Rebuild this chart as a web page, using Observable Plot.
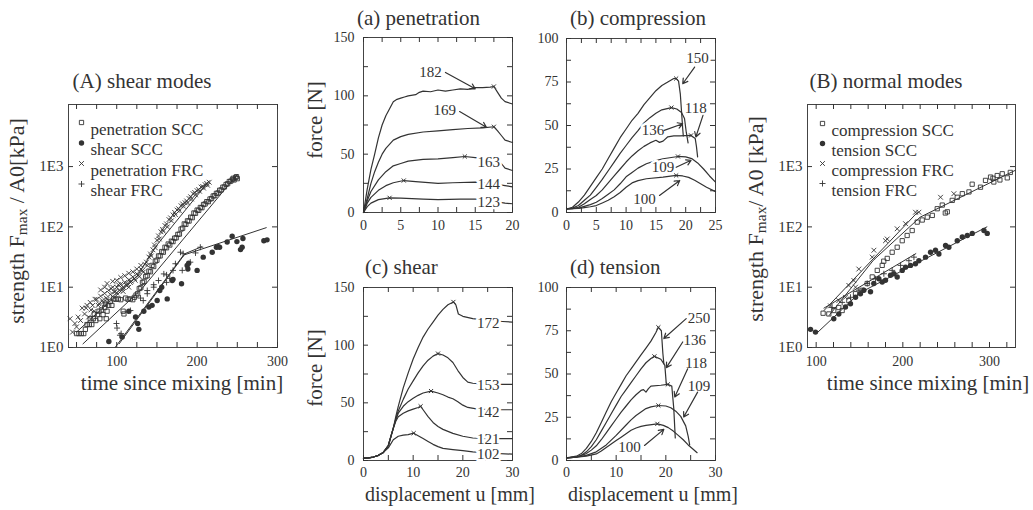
<!DOCTYPE html>
<html><head><meta charset="utf-8">
<script src="https://cdn.jsdelivr.net/npm/d3@7"></script>
<script src="https://cdn.jsdelivr.net/npm/@observablehq/plot@0.6"></script>
<style>
body{margin:0;background:#fff;}
#fig{position:relative;width:1033px;height:510px;overflow:hidden;font-family:"Liberation Serif","Times New Roman",serif;color:#333;background:#fff;}
#fig svg text{font-family:"Liberation Serif","Times New Roman",serif;}
.t{position:absolute;white-space:nowrap;font-size:21px;line-height:1;}
.c{transform:translate(-50%,-50%);}
.l{transform:translate(0,-50%);}
.r{transform:translate(-50%,-50%) rotate(-90deg);}
sub{font-size:0.7em;vertical-align:-0.2em;}
</style></head><body><div id="fig"></div>
<script>
const INK = "#333";
const FONT = '"Liberation Serif","Times New Roman",serif';

// ---------- Panel A: shear modes ----------
const penSCC = [[50,1.7],[53,1.7],[56,1.7],[59,1.7],[61,2.0],[63,2.4],[66,2.4],[69,2.4],[67,3.0],[71,3.0],[74,2.8],[72,3.6],[76,3.5],[78,4.0],[79,3.0],[81,4.2],[83,3.5],[85,4.6],[86,5.2],[87,3.0],[88,4.0],[90,5.0],[92,5.8],[94,5.0],[96,6.4],[99,6.3],[102,6.4],[105,6.2],[108,4.0],[109,3.6],[111,6.6],[114,6.3],[117,6.4],[120,6.2],[122,6.8],[124,7.4],[126,7.8],[128,9.5],[130,9.8],[132,12],[134,12.5],[136,15],[138,15.5],[140,18.5],[142,18],[144,23],[146,22],[148,27],[150,28],[152,33],[154,33],[156,39],[158,38],[160,46],[162,45],[164,52],[166,50],[168,58],[170,57],[172,65],[174,66],[176,75],[178,76],[180,92],[182,95],[184,112],[186,110],[188,126],[190,125],[192,145],[194,142],[196,170],[198,168],[200,190],[202,188],[204,210],[206,208],[208,235],[210,240],[212,262],[214,262],[216,290],[218,295],[220,325],[222,330],[224,360],[226,365],[228,405],[230,410],[232,455],[234,460],[236,505],[238,520],[240,565],[242,575],[244,615],[246,600],[248,660],[250,630],[245,640],[249,680]];
const shearSCC = [[90.2,1.26],[106.8,1.5],[115,4.0],[123.4,3.2],[127.5,2.0],[126,2.5],[133.7,4.0],[140,4.7],[144,5.0],[150.3,6.0],[153.6,8.8],[156,10],[162.8,6.4],[169,12.9],[170,13.5],[180.6,11.4],[187.6,23],[188.5,20],[189.5,25],[200,19],[207.6,31.5],[218.8,38],[224,46],[226,47],[228,46],[237.4,56],[243.6,70],[249.5,57],[254,42],[256,46],[257,64],[283,59],[287,61]];
const penFRC = [[42,3.0],[45,1.8],[48,2.5],[50,2.2],[52,3.2],[55,2.8],[57,4.5],[60,3.6],[62,4.5],[63,5.0],[65,3.2],[67,5.6],[68,4.2],[70,5.0],[72,4.0],[73,6.3],[75,6.3],[77,5.0],[78,5.3],[80,7.1],[82,6.0],[83,5.6],[85,7.9],[87,6.6],[88,6.3],[90,8.9],[92,7.6],[93,9.5],[95,10],[97,8.3],[98,8.5],[100,10],[102,11],[103,8.9],[105,11.2],[107,9.5],[108,10],[110,12],[112,10.7],[113,11.5],[115,13.2],[117,12],[118,12.6],[120,14.8],[122,14],[123,13],[125,16.6],[127,15.8],[128,15],[130,20],[132,19],[133,17.8],[135,24],[137,26],[138,23],[140,31.6],[142,35.5],[143,33],[145,41.7],[147,50],[148,45],[150,60],[152,70.8],[153,63],[155,83],[157,91],[158,85],[160,105],[162,112],[163,100],[165,132],[167,141],[168,126],[170,158],[172,174],[173,160],[175,190],[177,200],[178,185],[180,224],[182,240],[183,220],[185,251],[187,269],[188,250],[190,295],[192,316],[193,290],[195,355],[197,372],[198,340],[200,398],[202,417],[203,390],[205,457],[207,468],[208,440],[210,501],[212,525],[213,490],[215,550],[80,9],[85,10],[88,11.5],[95,12.5],[100,13],[105,14.5],[110,15.5],[115,17],[120,18],[125,20],[130,23],[88,5.6],[95,7],[100,8],[108,8.5],[115,10]];
const shearFRC = [[99.7,2.5],[100.4,2.1],[104,1.6],[105.5,1.7],[117,4.1],[129.6,6.6],[133,6],[138,7.8],[146,10],[146,11],[152,12.9],[158.6,16.6],[162,12],[166,14],[170,19],[173,24.5],[179.3,38],[182.6,36],[191.5,26],[198,37],[204,46],[181.5,19],[162,16],[138,8.8]];
const fitPenSCC = [[58,1.15],[130,9],[250,740]];
const fitPenFRC = [[50,1.8],[125,15],[150,50],[215,580]];
const fitShearSCC = [[98,1],[183,34],[286,97]];
const fitShearFRC = [[103,1.15],[185,36],[206,47]];
const legendA = ["penetration SCC","shear SCC","penetration FRC","shear FRC"];

// ---------- Panel B: normal modes ----------
const compSCC = [[108,3.7],[114.6,3.6],[120.3,4.1],[126.1,4.6],[130,4.1],[137.7,6],[145.4,7.8],[153.1,8.9],[158.9,11.5],[164.7,14.8],[170.5,19],[176.2,23],[178,27],[182,30],[187.7,38],[193.5,46],[199.3,59],[205,72],[210.8,87],[216.6,120],[222.4,130],[228.2,145],[234,155],[239.7,200],[245.5,230],[249,170],[251.3,178],[257,275],[262.8,310],[268.6,355],[276.3,380],[280,510],[289.6,455],[295.4,590],[301.2,670],[304,640],[305,555],[308.9,710],[312,600],[314.7,760],[320.5,650],[324,800]];
const tensSCC = [[93.5,2.0],[99.2,1.8],[120.3,3.0],[126.1,3.6],[133.8,4.7],[139.6,5.3],[145.4,6.8],[151.1,7.8],[155,8.9],[162.7,8.4],[166.5,11.5],[172.3,13.8],[176.2,12.2],[180,13],[185.8,15.8],[189.7,16.7],[193.5,14.8],[199.3,19],[203.1,21.5],[208.9,23],[214.6,24.5],[218.5,27.5],[226.2,31.5],[232,38],[237.7,41],[241.6,35.5],[249.3,49],[253.1,46],[262.8,59],[268.6,68],[274.4,72],[280.1,78],[293.6,87],[297.4,78]];
const compFRC = [[116.5,4.9],[126.1,6],[133.8,6.8],[137.7,10.7],[143.5,12.9],[145.4,10],[149.2,20],[164.7,31.5],[166.6,41],[180,59],[182,63],[193.5,93],[203.1,113],[214.6,175],[218.5,175],[243.5,310],[258.9,355]];
const tensFRC = [[118.4,4.6],[130,5.6],[139.6,6.8],[149.2,8.9],[158.9,11.5],[168.5,13.8],[178.1,16.7],[187.7,19],[197.4,23],[207,27.5],[212.8,31.5]];
const fitCompFRC = [[109,4.1],[217,175]];
const fitCompSCC = [[115,3.4],[166,28],[220,145],[330,870]];
const fitTensFRC = [[109,4.5],[215,36]];
const fitTensSCC = [[102,1.8],[150,8],[200,19],[297,100]];
const legendB = ["compression SCC","tension SCC","compression FRC","tension FRC"];

const logTicks = [1,10,100,1000];
const logTickLabels = ["1E0","1E1","1E2","1E3"];

// ---------- (a) penetration ----------
const a182 = [[0,0],[0.5,20],[1,37],[1.5,50],[2,64],[2.5,75],[3,83],[3.5,89],[4,95],[4.5,97],[5,98],[5.5,99],[6,100],[7,101],[7.5,103],[8,104],[9,103.5],[10,105],[11,104],[12,105],[13,106],[14,105.5],[15,107],[16,107],[17,107.5],[17.5,108],[18,103],[18.5,98],[19,95],[20,93]];
const a169 = [[0,0],[0.5,12],[1,25],[1.5,35],[2,43],[2.5,50],[3,55],[4,62],[5,65],[6,67],[8,69],[10,70],[12,71],[14,72],[16,72.5],[17.5,73.5],[18,70],[18.5,66],[19,62],[20,60]];
const a163 = [[0,0],[0.5,10],[1,18],[2,28],[3,35],[4,40],[5,42],[6,44],[8,45.5],[10,46],[12,47],[13.6,48],[15,47],[17,45],[18.5,42],[19,38],[20,36]];
const a144 = [[0,0],[0.5,8],[1,13],[2,19],[3,23],[4,25.5],[5.4,27.4],[7,26.5],[10,25],[12,25.5],[15,26],[17,25],[19,23],[20,22]];
const a123 = [[0,0],[0.5,5],[1,8],[2,11],[3.5,12.6],[5,12.4],[8,11.5],[10,11],[13,11.5],[15,11.5],[17,10],[19,8],[20,7.5]];
const aPeaks = [[17.5,108],[17.5,73.5],[13.6,48],[5.4,27.4],[3.5,12.6]];
const aLabels = [{t:"182",x:9,y:120},{t:"169",x:10.9,y:87.4},{t:"163",x:16.8,y:43},{t:"144",x:16.8,y:24},{t:"123",x:16.8,y:8.8}];
const aArrows = [{x1:11.0,y1:120,x2:15.0,y2:106},{x1:12.9,y1:86.5,x2:16.5,y2:73}];

// ---------- (b) compression ----------
const b150 = [[0,2],[1,3],[2,6],[3,10],[4,15],[5,20],[6,25],[7,31],[8,37],[9,43],[10,48],[11,53],[12,57],[13,62],[14,66],[15,70],[16,73],[17,75],[18,77],[18.4,77],[18.8,75.5],[19.1,68],[19.3,58],[19.5,48],[19.6,44]];
const b136 = [[0,2],[1,2.5],[2,4],[3,7],[4,10],[5,14.5],[6,19],[7,24],[8,29],[9,34],[10,38.5],[11,43],[12,47],[13,51.5],[14,54.5],[15,57],[16,59],[17.6,60.3],[18.5,59.5],[19.3,57.5],[19.8,54],[20.1,46],[20.4,40]];
const b118 = [[0,2],[1,2.2],[2,3],[3,5],[4,7.5],[5,9.8],[6,13],[7,17],[8,21],[9,25],[10,29],[11,32.5],[12,35.5],[13,38],[14,40],[15,41.5],[15.6,40.3],[16.2,41],[17,43.5],[18,44],[19,44],[20.9,44.3],[21.6,42.5],[21.8,38],[22,32]];
const b109 = [[0,2],[2,2.5],[3,3.5],[4,4.5],[5,5.9],[6,8],[7,10.5],[8,13],[9,16.5],[10,20.5],[11,23],[12,25.5],[13.4,28],[15,29.8],[16.2,30.9],[18.7,32.2],[20,32],[21,31],[22,28.5],[23,25],[24,21],[25,17.5]];
const b100 = [[0,2],[2,2.3],[3,2.8],[4,3.3],[5,4],[6,5.5],[7,7],[8,9],[9,11.5],[10,14.5],[11,17],[12,18.3],[13.4,19.4],[16.2,20.3],[18.4,21.3],[19.5,21],[20.5,20.2],[21.5,18.5],[22.5,16.5],[23.5,14.5],[25,12]];
const bPeaks = [[18.4,77],[17.6,60.3],[20.9,44.3],[18.7,32.2],[18.4,21.3]];
const bLabels = [{t:"150",x:22,y:88.5},{t:"118",x:21.7,y:59.7},{t:"136",x:14.5,y:47.2},{t:"109",x:16.2,y:26},{t:"100",x:13.1,y:7.9}];
const bArrows = [{x1:21.5,y1:83.6,x2:19.5,y2:74},{x1:22.9,y1:55.8,x2:21.7,y2:43.4},{x1:16.4,y1:47.2,x2:19.5,y2:51},{x1:18.4,y1:26,x2:20.9,y2:30},{x1:15.6,y1:9.8,x2:19,y2:18.4}];

// ---------- (c) shear ----------
const c172 = [[0,2],[1,2.3],[2,3],[3,4.5],[4,7],[5,13],[6,28],[6.5,38],[7,47],[8,63],[9,76],[10,88],[11,98],[12,107],[13,114],[14,120],[15,126],[16,131],[17,135],[18.1,137.5],[18.6,135],[19.1,127],[20,125],[22,123],[24,122],[26,121],[28,120.5],[30,120]];
const c153 = [[0,2],[1,2.3],[2,3],[3,4.5],[4,7],[5,13],[6,28],[6.5,36],[7,43],[8,53],[9,62],[10,69],[11,76],[12,82],[13,87],[14,90.5],[15,92.7],[16,91.5],[17,89],[18,85],[19,78],[20,72],[21,68],[22,67],[25,66],[30,66]];
const c142 = [[0,2],[1,2.3],[2,3],[3,4.5],[4,7],[5,13],[6,28],[6.5,35],[7,41],[8,47],[9,51],[10,54],[11,56.5],[12,58.5],[13.6,60.2],[15,58.5],[16,57],[17,55],[18,53.5],[19,51],[20,48],[21,46],[23,44.5],[26,44],[30,44]];
const c121 = [[0,2],[1,2.3],[2,3],[3,4.5],[4,7],[5,13],[6,28],[6.5,34],[7,38],[8,41],[9,43],[10,44.5],[11,46],[11.5,47],[12,44],[13,38],[14,33],[15,29.5],[16,27],[18,23.5],[20,21],[22,19.5],[25,19],[30,19]];
const c102 = [[0,2],[1,2.3],[2,3],[3,4.5],[4,7],[5,11],[6,18],[7,21],[8,22],[9,22.5],[10.1,23.7],[11,21.5],[12,19],[13,16.5],[14,14],[15,12],[16,10.5],[18,9.5],[20,8.5],[22,7.5],[25,6.5],[30,5.5]];
const cPeaks = [[18.1,137.5],[15,92.7],[13.6,60.2],[11.5,47],[10.1,23.7]];
const cLabels = [{t:"172",x:25.1,y:118.7},{t:"153",x:25.1,y:65},{t:"142",x:25.1,y:42},{t:"121",x:25.1,y:18.5},{t:"102",x:25.1,y:5.8}];

// ---------- (d) tension ----------
const d250 = [[0,1.5],[2,2.5],[3,4],[4,7],[5,11],[6,16],[7,22],[8,28],[9,34],[10,39],[11,44],[12,49],[13,53],[14,57],[15,61],[16,65],[17,69],[18,74],[18.5,77],[19.1,75],[19.4,62],[19.6,56]];
const d136 = [[0,1.5],[2,2],[3,3],[4,5],[5,8],[6,12],[7,17],[8,22],[9,27],[10,32],[11,37],[12,41],[13,45],[14,49],[15,53],[16,56.5],[17,59],[17.7,60.2],[19,58.5],[19.8,55],[20.1,44]];
const d118 = [[0,1.5],[2,2],[4,4],[5,6],[6,8.5],[7,12],[8,16],[9,20],[10,24],[11,28],[12,31.5],[13,35],[14,38],[15,40.5],[15.5,41],[16,39.5],[16.5,41.5],[17,43],[19,43.5],[20.4,44],[21.2,43],[21.6,30],[21.9,13]];
const d109 = [[0,1.5],[2,2],[4,3],[6,5],[8,9],[10,14.5],[12,20.5],[13,23.5],[14,26],[15,28],[16,30],[17,31],[18.5,31.8],[20,31.5],[21,30.5],[22,28.5],[23,25.5],[24,20],[24.5,14],[24.8,9]];
const d100 = [[0,1.5],[2,2],[4,2.5],[6,3.8],[7,5.5],[8,7.5],[9,9.5],[10,11.5],[11,13.5],[12,15.5],[13,17.5],[14,18.8],[15,19.7],[16,20.3],[18.3,21.2],[19.5,20.3],[20.5,19],[21.5,17],[22.5,14.5],[23.5,12],[24.5,9],[25.5,6.5],[26.3,4.5]];
const dPeaks = [[18.5,77],[17.7,60.2],[20.4,44],[18.5,31.8],[18.3,21.2]];
const dLabels = [{t:"250",x:26.7,y:82},{t:"136",x:25.8,y:69.5},{t:"118",x:26.1,y:56.4},{t:"109",x:26.7,y:42.8},{t:"100",x:12.7,y:7.7}];
const dArrows = [{x1:24.1,y1:82,x2:19.6,y2:70.5},{x1:23.4,y1:68.5,x2:20.1,y2:53.7},{x1:24.4,y1:53,x2:21.8,y2:36.7},{x1:26.4,y1:39.5,x2:23.6,y2:25.1},{x1:15.7,y1:8.7,x2:19.6,y2:18}];

// ---------- helpers ----------
const fig = document.getElementById("fig");

function sym(data, kind, extra = {}) {
  if (kind === "square") return Plot.dot(data, {r: 2.4, symbol: "square", fill: "none", stroke: INK, strokeWidth: 0.9, ...extra});
  if (kind === "circle") return Plot.dot(data, {r: 2.7, symbol: "circle", fill: INK, ...extra});
  if (kind === "times") return Plot.dot(data, {r: 2.3, symbol: "times", stroke: INK, strokeWidth: 0.9, ...extra});
  return Plot.dot(data, {r: 2.1, symbol: "plus", stroke: INK, strokeWidth: 0.9, ...extra});
}

function frameTicks(xt, yt, iw, ih, len = 5) {
  return [
    Plot.tickX(xt, {x: d => d, insetTop: ih - len, stroke: INK}),
    Plot.tickX(xt, {x: d => d, insetBottom: ih - len, stroke: INK}),
    Plot.tickY(yt, {y: d => d, insetRight: iw - len, stroke: INK}),
    Plot.tickY(yt, {y: d => d, insetLeft: iw - len, stroke: INK})
  ];
}

function legend(items, kinds, dx, dy0, step) {
  const marks = [];
  items.forEach((txt, i) => {
    marks.push(sym([0], kinds[i], {frameAnchor: "top-left", dx: dx, dy: dy0 + step * i}));
    marks.push(Plot.text([txt], {frameAnchor: "top-left", dx: dx + 9, dy: dy0 + step * i, text: d => d, textAnchor: "start", fontSize: 17, fontFamily: FONT, fill: INK}));
  });
  return marks;
}

function panel(o) {
  const iw = o.w - o.ml - o.mr, ih = o.h - o.mt - o.mb;
  const svg = Plot.plot({
    width: o.w, height: o.h,
    marginTop: o.mt, marginRight: o.mr, marginBottom: o.mb, marginLeft: o.ml,
    x: {...o.x, label: null},
    y: {...o.y, label: null},
    style: {fontFamily: FONT, fontSize: "14px", color: INK, background: "transparent", overflow: "visible"},
    marks: [
      Plot.frame({stroke: "#444", strokeWidth: 1}),
      ...frameTicks(o.xMinor, o.yMinor, iw, ih),
      Plot.axisX({ticks: o.xLab, tickSize: 0, tickPadding: o.px, label: null, tickFormat: o.xFmt, fontSize: 14, fontFamily: FONT}),
      Plot.axisY({ticks: o.yLab, tickSize: 0, tickPadding: o.py, label: null, tickFormat: o.yFmt, fontSize: o.yFont || 14, fontFamily: FONT}),
      ...o.marks(iw, ih)
    ]
  });
  svg.style.position = "absolute";
  svg.style.left = o.left + "px";
  svg.style.top = o.top + "px";
  fig.appendChild(svg);
}

function htmlText(html, x, y, cls, size) {
  const d = document.createElement("div");
  d.className = "t " + cls;
  d.innerHTML = html;
  d.style.left = x + "px";
  d.style.top = y + "px";
  if (size) d.style.fontSize = size + "px";
  fig.appendChild(d);
}

const line = (data) => Plot.line(data, {stroke: INK, strokeWidth: 1.2});
const fit = (data) => Plot.line(data, {stroke: INK, strokeWidth: 1});
const peaks = (data) => Plot.dot(data, {symbol: "times", r: 2, stroke: INK, strokeWidth: 1});
const labels = (data) => Plot.text(data, {x: "x", y: "y", text: "t", fontSize: 15, fontFamily: FONT, fill: INK, stroke: "white", strokeWidth: 5});
const arrows = (data) => Plot.arrow(data, {x1: "x1", y1: "y1", x2: "x2", y2: "y2", stroke: INK, strokeWidth: 1.2, headLength: 7});
const logFmt = d => logTickLabels[logTicks.indexOf(d)];
const range = (a, b, s) => d3.range(a, b + s / 2, s);

// Panel A
panel({
  left: 0, top: 90, w: 300, h: 290, mt: 14, mr: 23, mb: 33, ml: 68,
  x: {domain: [40, 300]}, y: {type: "log", domain: [1, 10700]},
  xMinor: range(50, 300, 25), yMinor: logTicks, xLab: [100, 200, 300], yLab: logTicks,
  yFmt: logFmt, px: 9, py: 5, yFont: 15,
  marks: () => [
    fit(fitPenSCC), fit(fitPenFRC), fit(fitShearSCC), fit(fitShearFRC),
    sym(penSCC, "square"), sym(penFRC, "times"), sym(shearFRC, "plus"), sym(shearSCC, "circle"),
    ...legend(legendA, ["square", "circle", "times", "plus"], 13, 18, 20.5)
  ]
});

// Panel B
panel({
  left: 760, top: 90, w: 273, h: 290, mt: 14, mr: 18, mb: 33, ml: 47,
  x: {domain: [90, 330]}, y: {type: "log", domain: [1, 10700]},
  xMinor: range(100, 320, 20), yMinor: logTicks, xLab: [100, 200, 300], yLab: logTicks,
  yFmt: logFmt, px: 9, py: 5, yFont: 15,
  marks: () => [
    fit(fitCompFRC), fit(fitCompSCC), fit(fitTensFRC), fit(fitTensSCC),
    sym(compSCC, "square"), sym(compFRC, "times"), sym(tensFRC, "plus"), sym(tensSCC, "circle"),
    ...legend(legendB, ["square", "circle", "times", "plus"], 15, 19, 20)
  ]
});

// (a)
panel({
  left: 320, top: 0, w: 200, h: 240, mt: 37, mr: 8, mb: 28, ml: 43,
  x: {domain: [0, 20]}, y: {domain: [0, 150]},
  xMinor: range(0, 20, 2.5), yMinor: range(0, 150, 25), xLab: [0, 5, 10, 15, 20], yLab: [0, 50, 100, 150],
  px: 8, py: 9,
  marks: () => [line(a182), line(a169), line(a163), line(a144), line(a123), peaks(aPeaks), labels(aLabels), arrows(aArrows)]
});

// (b)
panel({
  left: 520, top: 0, w: 220, h: 240, mt: 38, mr: 25, mb: 28, ml: 46,
  x: {domain: [0, 25]}, y: {domain: [0, 100]},
  xMinor: range(0, 25, 2.5), yMinor: range(0, 100, 12.5), xLab: [0, 5, 10, 15, 20, 25], yLab: [0, 25, 50, 75, 100],
  px: 8, py: 8,
  marks: () => [line(b150), line(b136), line(b118), line(b109), line(b100), peaks(bPeaks), labels(bLabels), arrows(bArrows)]
});

// (c)
panel({
  left: 320, top: 250, w: 200, h: 250, mt: 37, mr: 8, mb: 40, ml: 43,
  x: {domain: [0, 30]}, y: {domain: [0, 150]},
  xMinor: range(0, 30, 5), yMinor: range(0, 150, 25), xLab: [0, 10, 20, 30], yLab: [0, 50, 100, 150],
  px: 7, py: 9,
  marks: () => [line(c172), line(c153), line(c142), line(c121), line(c102), peaks(cPeaks), labels(cLabels)]
});

// (d)
panel({
  left: 520, top: 250, w: 220, h: 250, mt: 37, mr: 25, mb: 40, ml: 46,
  x: {domain: [0, 30]}, y: {domain: [0, 100]},
  xMinor: range(0, 30, 5), yMinor: range(0, 100, 12.5), xLab: [0, 10, 20, 30], yLab: [0, 25, 50, 75, 100],
  px: 7, py: 8,
  marks: () => [line(d250), line(d136), line(d118), line(d109), line(d100), peaks(dPeaks), labels(dLabels), arrows(dArrows)]
});

// Titles and axis labels
htmlText("(A) shear modes", 142, 81, "c");
htmlText("strength F<sub>max</sub> / A0[kPa]", 18, 221, "r", 22);
htmlText("time since mixing [min]", 182, 383, "c", 21);
htmlText("(B) normal modes", 886, 81, "c");
htmlText("strength F<sub>max</sub>/ A0 [kPa]", 757, 219, "r", 22);
htmlText("time since mixing [min]", 928, 383, "c", 21);
htmlText("(a) penetration", 357, 18, "l");
htmlText("(b) compression", 570, 18, "l");
htmlText("(c) shear", 365, 267, "l");
htmlText("(d) tension", 570, 267, "l");
htmlText("force [N]", 315, 120, "r");
htmlText("force [N]", 315, 368, "r");
htmlText("displacement u [mm]", 365, 494, "l", 20);
htmlText("displacement u [mm]", 568, 494, "l", 20);
</script></body></html>
